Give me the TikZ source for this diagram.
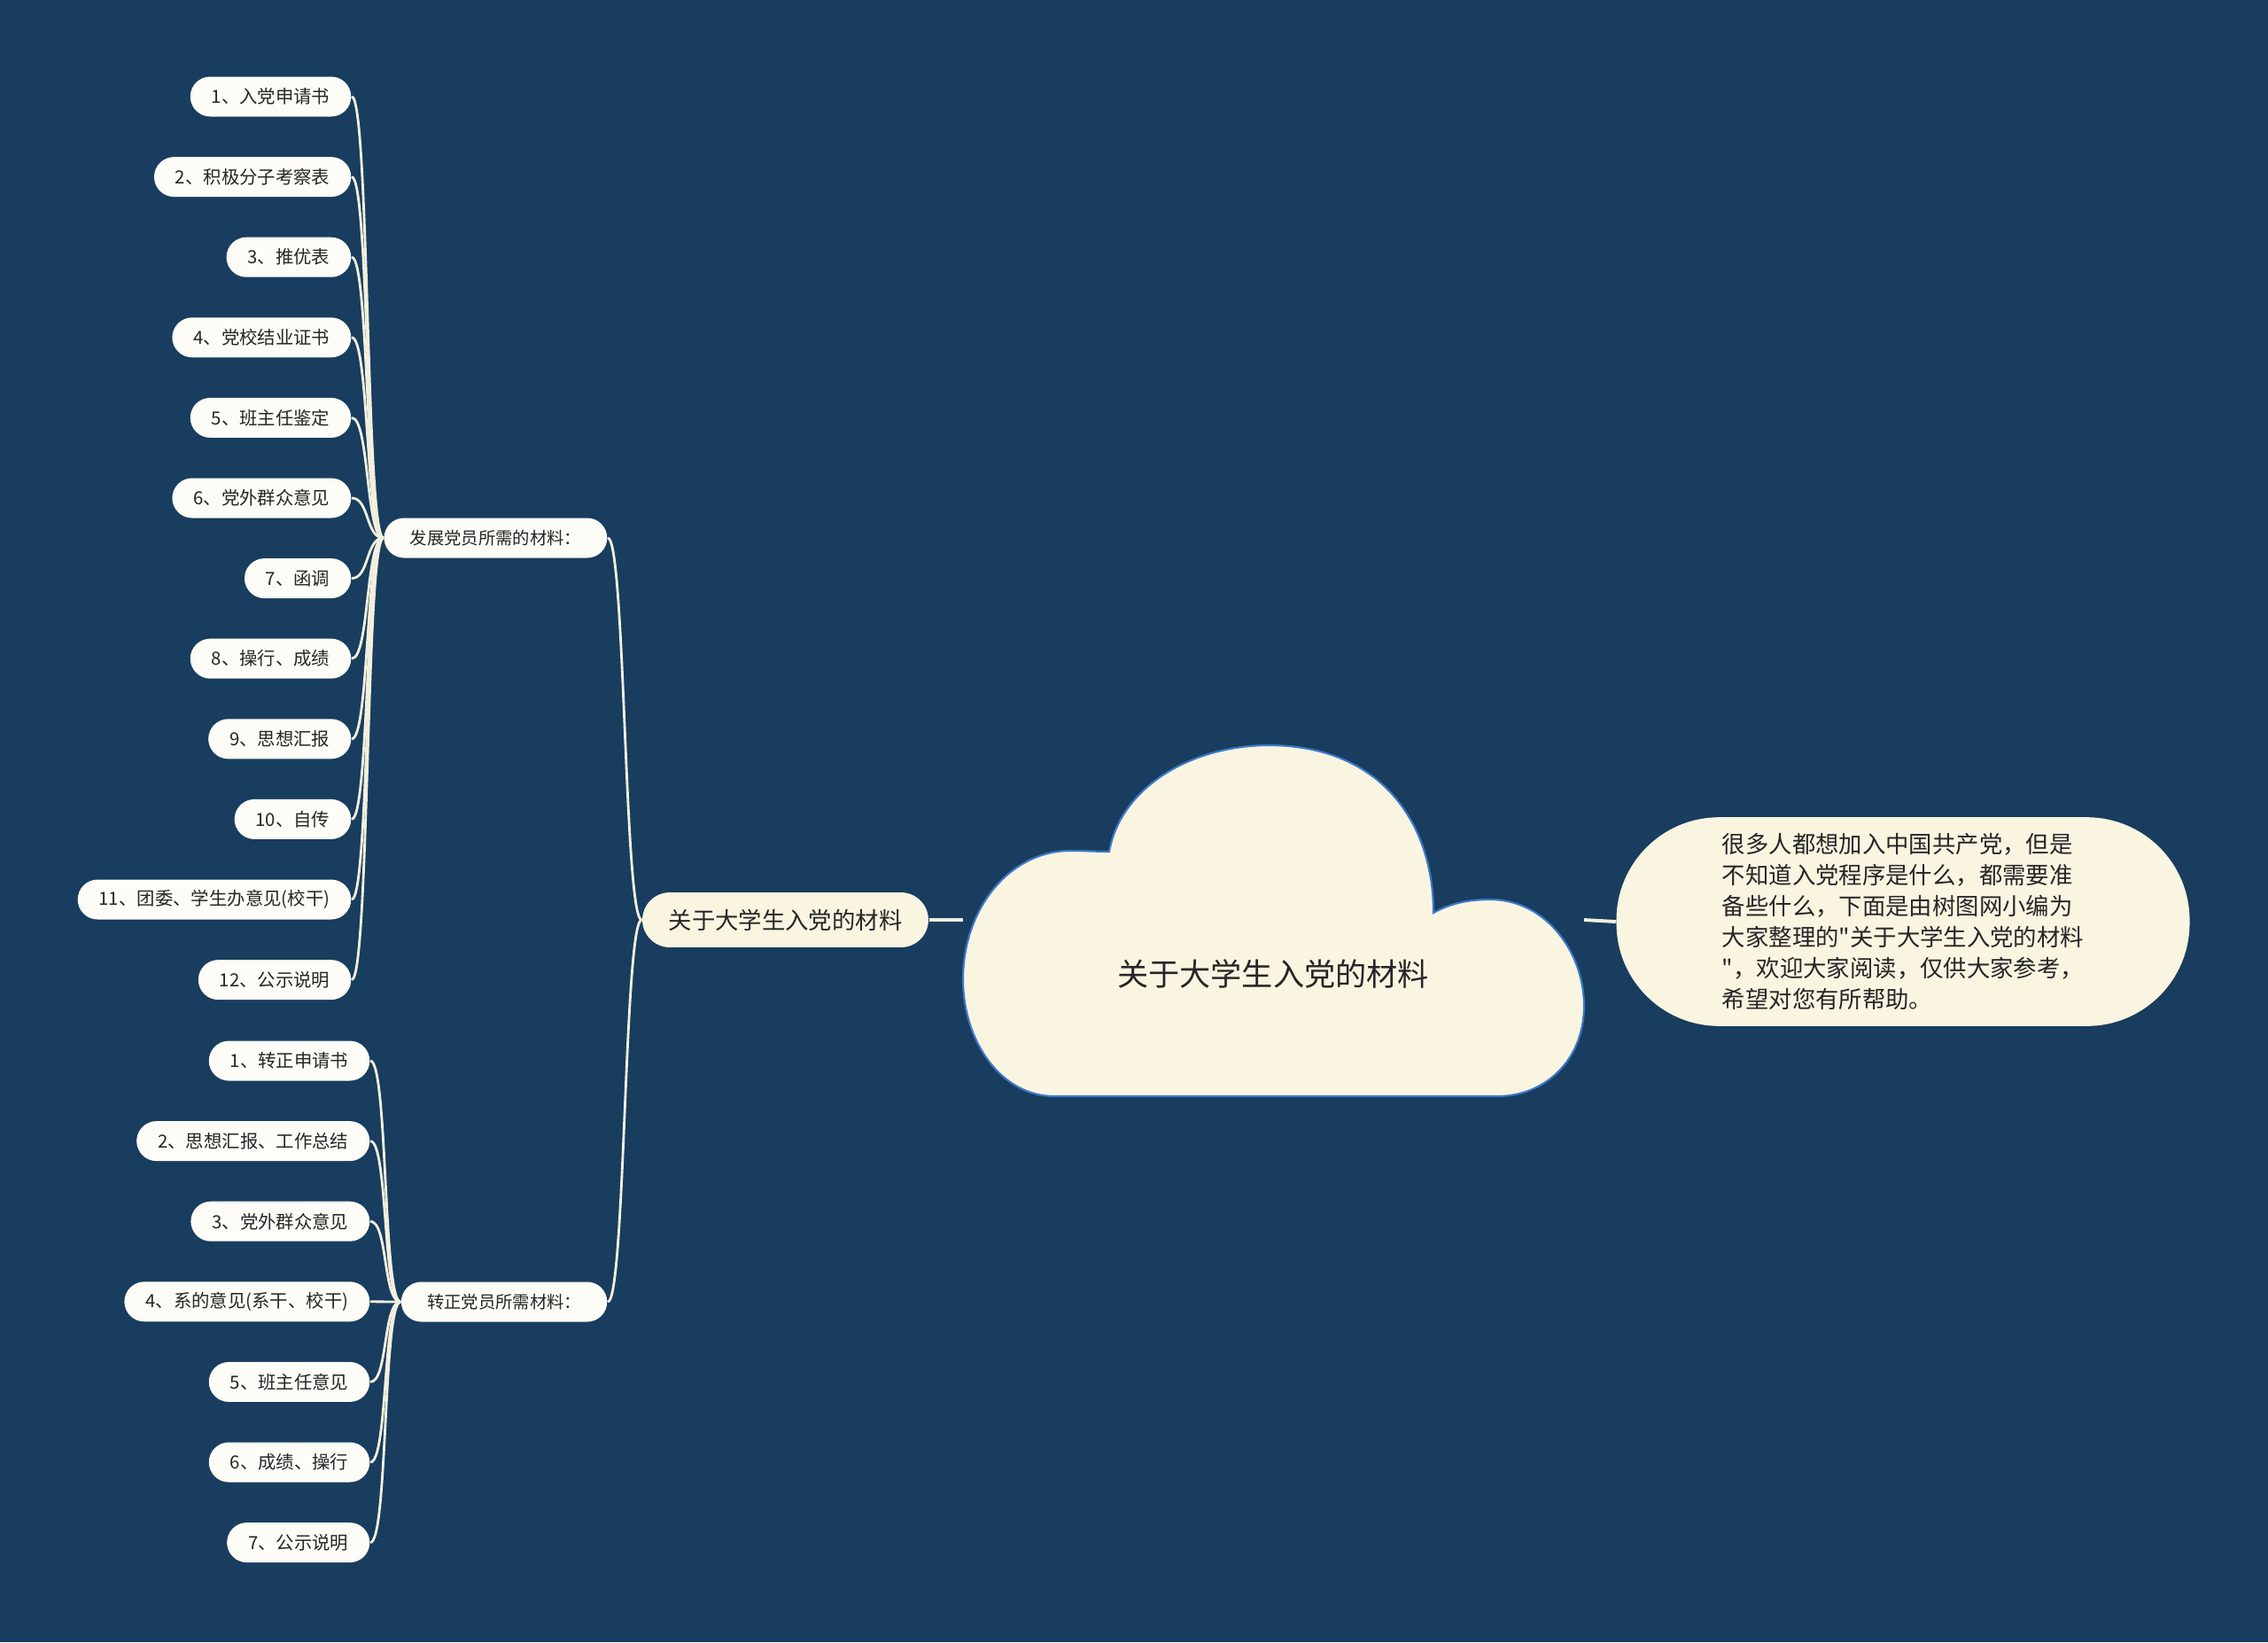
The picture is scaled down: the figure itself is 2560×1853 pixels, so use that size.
\documentclass[tikz,border=0pt]{standalone}
\usepackage{fontspec}
\newfontfamily\zhfont{Noto Sans CJK SC}
\definecolor{bgblue}{RGB}{24,61,94}
\definecolor{cream}{RGB}{249,245,225}
\definecolor{leaffill}{RGB}{253,252,246}
\definecolor{linecol}{RGB}{243,239,222}
\definecolor{cloudedge}{RGB}{60,120,200}
\definecolor{txt}{RGB}{38,38,38}
\tikzset{
  leaf/.style={shape=rectangle, rounded corners=6.4pt, fill=leaffill, text=txt,
    font=\zhfont\fontsize{5.8}{7}\selectfont, minimum height=12.8pt, inner xsep=6.8pt,
    inner ysep=0pt, anchor=east},
  sub/.style={leaf, inner xsep=8.3pt, font=\zhfont\fontsize{5.5}{7}\selectfont},
  topic/.style={shape=rectangle, rounded corners=8.8pt, fill=cream, text=txt,
    font=\zhfont\fontsize{7.5}{9}\selectfont, minimum height=17.6pt, inner xsep=8.4pt, inner ysep=0pt},
  note/.style={shape=rectangle, rounded corners=33pt, fill=cream, text=txt,
    minimum width=184pt, minimum height=67pt, align=left,
    font=\zhfont\fontsize{7.5}{10}\selectfont},
  link/.style={draw=linecol, line width=0.8pt},
  branch/.style={to path={.. controls +(20,0) and +(-20,0) .. (\tikztotarget)}},
  cloud/.style={fill=cream, draw=cloudedge, line width=0.6pt}
}
\begin{document}
\begin{tikzpicture}[x=0.01cm, y=-0.01cm]
		\useasboundingbox (0,0) rectangle (2560,1853);
		\fill[bgblue] (0,0) rectangle (2560,1853);
		
		% first group
		\node[leaf] (a1) at (397,109) {1、入党申请书};
		\node[leaf] (a2) at (397,199.6) {2、积极分子考察表};
		\node[leaf] (a3) at (397,290.2) {3、推优表};
		\node[leaf] (a4) at (397,380.8) {4、党校结业证书};
		\node[leaf] (a5) at (397,471.4) {5、班主任鉴定};
		\node[leaf] (a6) at (397,562) {6、党外群众意见};
		\node[leaf] (a7) at (397,652.6) {7、函调};
		\node[leaf] (a8) at (397,743.2) {8、操行、成绩};
		\node[leaf] (a9) at (397,833.8) {9、思想汇报};
		\node[leaf] (a10) at (397,924.4) {10、自传};
		\node[leaf] (a11) at (397,1015) {11、团委、学生办意见(校干)};
		\node[leaf] (a12) at (397,1105.6) {12、公示说明};
		
		% second group
		\node[leaf] (b1) at (418,1197) {1、转正申请书};
		\node[leaf] (b2) at (418,1287.6) {2、思想汇报、工作总结};
		\node[leaf] (b3) at (418,1378.2) {3、党外群众意见};
		\node[leaf] (b4) at (418,1468.8) {4、系的意见(系干、校干)};
		\node[leaf] (b5) at (418,1559.4) {5、班主任意见};
		\node[leaf] (b6) at (418,1650) {6、成绩、操行};
		\node[leaf] (b7) at (418,1740.6) {7、公示说明};
		
		\node[sub] (S1) at (686,607) {发展党员所需的材料：};
		\node[sub] (S2) at (686,1469) {转正党员所需材料：};
		\node[topic] (T) at (886.5,1038) {关于大学生入党的材料};
		\node[note] (N) at (2148,1040) {很多人都想加入中国共产党，但是\\
			不知道入党程序是什么，都需要准\\
			备些什么，下面是由树图网小编为\\
			大家整理的"关于大学生入党的材料\\
			"，欢迎大家阅读，仅供大家参考，\\
			希望对您有所帮助。};
		\coordinate (cloudW) at (1087,1038);
		\coordinate (cloudE) at (1788,1038);
		
		\path[link] (a1.east) edge[branch] (S1.west);
		\path[link] (a2.east) edge[branch] (S1.west);
		\path[link] (a3.east) edge[branch] (S1.west);
		\path[link] (a4.east) edge[branch] (S1.west);
		\path[link] (a5.east) edge[branch] (S1.west);
		\path[link] (a6.east) edge[branch] (S1.west);
		\path[link] (a7.east) edge[branch] (S1.west);
		\path[link] (a8.east) edge[branch] (S1.west);
		\path[link] (a9.east) edge[branch] (S1.west);
		\path[link] (a10.east) edge[branch] (S1.west);
		\path[link] (a11.east) edge[branch] (S1.west);
		\path[link] (a12.east) edge[branch] (S1.west);
		\path[link] (b1.east) edge[branch] (S2.west);
		\path[link] (b2.east) edge[branch] (S2.west);
		\path[link] (b3.east) edge[branch] (S2.west);
		\path[link] (b4.east) edge[branch] (S2.west);
		\path[link] (b5.east) edge[branch] (S2.west);
		\path[link] (b6.east) edge[branch] (S2.west);
		\path[link] (b7.east) edge[branch] (S2.west);
		\path[link] (S1.east) edge[branch] (T.west);
		\path[link] (S2.east) edge[branch] (T.west);
		\path[link, line width=1.1pt] (T.east) edge (cloudW);
		\path[link, line width=1.1pt] (cloudE) edge (N.west);
		
		% cloud
		\draw[cloud] (1252,961)
			.. controls (1265,888) and (1345,841) .. (1432,841)
			.. controls (1560,841) and (1618,930) .. (1618,1030)
			.. controls (1638,1019) and (1658,1015) .. (1682,1015)
			.. controls (1745,1015) and (1788,1075) .. (1788,1135)
			.. controls (1788,1195) and (1745,1237) .. (1690,1237)
			-- (1190,1237)
			.. controls (1130,1237) and (1087,1175) .. (1087,1105)
			.. controls (1087,1025) and (1140,960) .. (1208,960)
			.. controls (1225,960) and (1240,961) .. (1252,961) -- cycle;
		\node[text=txt, font=\zhfont\fontsize{10}{12}\selectfont] (C) at (1437,1099) {关于大学生入党的材料};
		
	\end{tikzpicture}
\end{document}
